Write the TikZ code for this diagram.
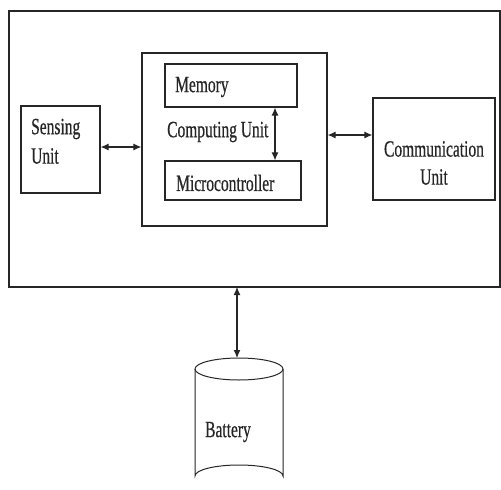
\documentclass[tikz,border=0pt]{standalone}
\usepackage{fontspec}
\setmainfont{Liberation Serif}
\newfontfamily\heavyserif{Liberation Serif}[FakeBold=0.7]
\usepackage{graphicx}
\usetikzlibrary{arrows.meta}
\definecolor{ink}{HTML}{262626}
\newcommand{\tallt}[1]{\scalebox{1}[1.5]{#1}}
\begin{document}
\begin{tikzpicture}[x=1pt,y=-1pt,
  blk/.style={draw=ink,line width=1.2pt,inner sep=0pt},
  lbl/.style={inner sep=0pt,text=ink,font=\heavyserif\fontsize{15.5}{18}\selectfont},
  link/.style={draw=ink,line width=1.1pt,{Latex[length=8pt,width=7pt]}-{Latex[length=8pt,width=7pt]}}]
  \useasboundingbox (0,0) rectangle (501,490);
  % outer enclosure
  \draw[ink,line width=1.3pt] (9,11) rectangle (500,287);
  % blocks
  \node[blk,minimum width=79pt,minimum height=87pt] (sense) at (60.5,149.5) {};
  \node[blk,minimum width=185pt,minimum height=173pt] (comp) at (234.5,139.5) {};
  \node[blk,minimum width=132pt,minimum height=43pt] (mem) at (231,85.5) {};
  \node[blk,minimum width=136pt,minimum height=39pt] (mcu) at (233,180.5) {};
  \node[blk,minimum width=122pt,minimum height=102pt] (comm) at (434,149) {};
  % labels
  \node[lbl,anchor=west] (tsense1) at (31,129) {\tallt{Sensing}};
  \node[lbl,anchor=west] (tsense2) at (31,156) {\tallt{Unit}};
  \node[lbl,anchor=west] (tmem) at (175,87) {\tallt{Memory}};
  \node[lbl,anchor=west] (tcomp) at (167,132) {\tallt{Computing Unit}};
  \node[lbl,anchor=west] (tmcu) at (176,183) {\tallt{Microcontroller}};
  \node[lbl] (tcomm1) at (434,149) {\tallt{Communication}};
  \node[lbl] (tcomm2) at (434,177) {\tallt{Unit}};
  % battery cylinder
  \coordinate (battop) at (239,358);
  \draw[ink,line width=1pt] (239,369) ellipse [x radius=44, y radius=11];
  \draw[ink,line width=1pt] (195,369) -- (195,476) arc[start angle=180,end angle=360,x radius=44,y radius=11] -- (283,369);
  \node[lbl] (tbat) at (228,432) {\tallt{Battery}};
  % connectors
  \draw[link] (sense.east |- 0,147) -- (comp.west |- 0,147);
  \draw[link] (comp.east |- 0,135) -- (comm.west |- 0,135);
  \draw[link] (mem.south -| 275,0) -- (mcu.north -| 275,0);
  \coordinate (encl) at (237,287);
  \draw[link] (encl) -- (battop -| encl);
\end{tikzpicture}
\end{document}
